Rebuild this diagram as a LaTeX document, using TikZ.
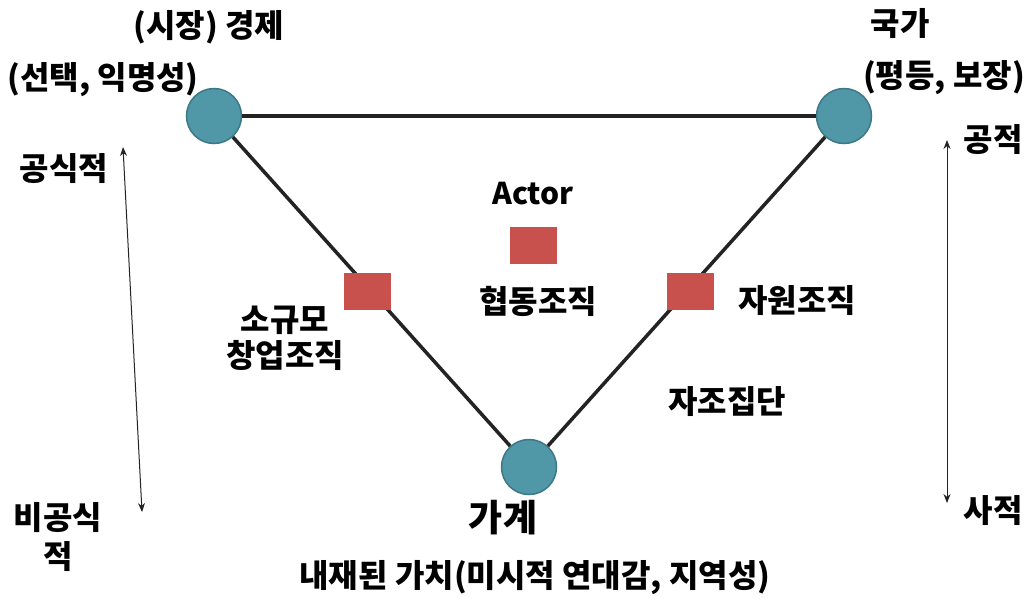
\documentclass[tikz,border=0pt]{standalone}
\usepackage{fontspec}
\setmainfont{Noto Sans CJK KR}
\usetikzlibrary{arrows.meta}
\definecolor{ballfill}{RGB}{80,152,168}
\definecolor{balledge}{RGB}{60,120,135}
\definecolor{sqred}{RGB}{200,80,77}
\definecolor{linegray}{RGB}{35,35,35}
\begin{document}
\begin{tikzpicture}[x=1pt,y=-1pt,
  ball/.style={circle,minimum size=55pt,inner sep=0pt,fill=ballfill,draw=balledge,line width=1.5pt},
  sqbox/.style={rectangle,minimum width=47pt,minimum height=37pt,inner sep=0pt,fill=sqred},
  lbl/.style={font=\bfseries\fontsize{32}{36}\selectfont,inner sep=0pt,align=center},
  triline/.style={draw=linegray,line width=3.5pt},
  scalearrow/.style={draw=linegray,line width=1pt,{Stealth[length=9pt,width=7pt]}-{Stealth[length=9pt,width=7pt]}}]
\useasboundingbox (0,0) rectangle (1030,598);
% nodes
\node[ball] (tl) at (214,116) {};
\node[ball] (tr) at (844,116) {};
\node[ball] (bot) at (529,467) {};
\draw[triline] (tl) -- (tr);
\draw[triline] (tl) -- (bot);
\draw[triline] (tr) -- (bot);
\node[sqbox] (sqL) at (367,291) {};
\node[sqbox] (sqM) at (533,245) {};
\node[sqbox] (sqR) at (690,291) {};
% labels
\node[lbl] (econ) at (209,27) {(시장) 경제};
\node[lbl] (econsub) at (103,80) {(선택, 익명성)};
\node[lbl] (state) at (900,23) {국가};
\node[lbl] (statesub) at (944,78) {(평등, 보장)};
\node[lbl] (pub) at (993,140) {공적};
\node[lbl] (priv) at (993,511) {사적};
\node[lbl] (formal) at (64,169) {공식적};
\node[lbl] (informal) at (58,537) {비공식\\[3pt]적};
\node[lbl,font=\bfseries\fontsize{30}{36}\selectfont] (actor) at (533,194) {Actor};
\node[lbl] (coop) at (538,301) {협동조직};
\node[lbl] (small) at (285,338) {소규모\\창업조직};
\node[lbl] (vol) at (797,301) {자원조직};
\node[lbl] (self) at (727,402) {자조집단};
\node[lbl,font=\bfseries\fontsize{37}{40}\selectfont] (house) at (503,518) {가계};
\node[lbl] (value) at (535,578) {내재된 가치(미시적 연대감, 지역성)};
% scales
\coordinate (lt) at (123,147);
\coordinate (lb) at (142,512);
\coordinate (rt) at (947,140);
\coordinate (rb) at (947,503);
\draw[scalearrow] (lt) -- (lb);
\draw[scalearrow] (rt) -- (rb);
\end{tikzpicture}
\end{document}
